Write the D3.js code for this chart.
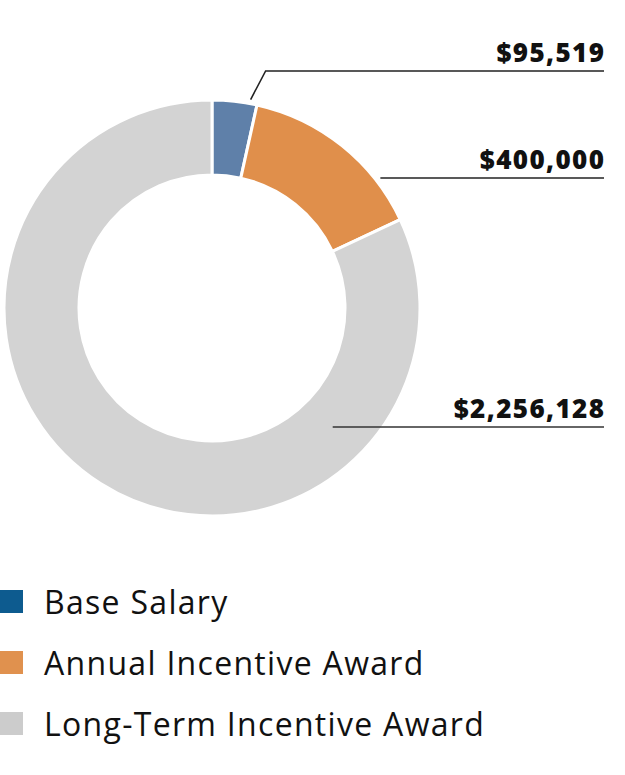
<!DOCTYPE html>
<html><head><meta charset="utf-8">
<script src="https://cdn.jsdelivr.net/npm/d3@7"></script>
<style>body{margin:0;background:#fff}svg{display:block}</style>
</head><body>
<svg id="c" width="625" height="775"></svg>
<script>
const categories = ["Base Salary", "Annual Incentive Award", "Long-Term Incentive Award"];
const values = [95519, 400000, 2256128];
const valueLabels = ["$95,519", "$400,000", "$2,256,128"];
const sliceColors = ["#5f80a9", "#e08f4b", "#d3d3d3"];
const legendColors = ["#0d5b8f", "#e0914e", "#cccccc"];

const svg = d3.select("#c");
const cx = 212, cy = 308, rOuter = 208, rInner = 133;
const g = svg.append("g").attr("transform", `translate(${cx},${cy})`);

const pie = d3.pie().sort(null).value(d => d);
const arcs = pie(values);
const arc = d3.arc().innerRadius(rInner).outerRadius(rOuter);

g.selectAll("path").data(arcs).enter().append("path")
  .attr("d", arc).attr("fill", (d, i) => sliceColors[i])
  .attr("stroke", "#fff").attr("stroke-width", 3).attr("stroke-linejoin", "miter");

const rightX = 604;
const labelLineY = [71, 178, 427];
const fontFam = "'Open Sans', Inter, sans-serif";

const a0 = arcs[0].endAngle * 0.84;
const p0 = [cx + 212 * Math.sin(a0), cy - 212 * Math.cos(a0)];
svg.append("path").attr("d", d3.line()([p0, [p0[0] + 15, labelLineY[0]], [rightX, labelLineY[0]]]))
  .attr("fill", "none").attr("stroke", "#222").attr("stroke-width", 1.6);

const dy1 = labelLineY[1] - cy;
const x1 = cx + Math.sqrt(rOuter * rOuter - dy1 * dy1);
svg.append("line").attr("x1", x1 + 6).attr("x2", rightX).attr("y1", labelLineY[1]).attr("y2", labelLineY[1])
  .attr("stroke", "#222").attr("stroke-width", 1.6);

const rMid = (rInner + rOuter) / 2 - 1;
const dy2 = labelLineY[2] - cy;
const x2 = cx + Math.sqrt(rMid * rMid - dy2 * dy2);
svg.append("line").attr("x1", x2).attr("x2", rightX).attr("y1", labelLineY[2]).attr("y2", labelLineY[2])
  .attr("stroke", "#333").attr("stroke-width", 1.6);

const ls = 1.4;
svg.selectAll("text.val").data(valueLabels).enter().append("text")
  .attr("class", "val").attr("x", rightX + ls).attr("y", (d, i) => labelLineY[i] - 9)
  .attr("text-anchor", "end").attr("font-family", fontFam).attr("font-weight", 800)
  .attr("font-size", 26).attr("letter-spacing", ls).attr("fill", "#111").text(d => d);

const leg = svg.append("g");
const rowY = d3.scalePoint().domain(categories).range([602, 724]);
categories.forEach((c, i) => {
  leg.append("rect").attr("x", 0).attr("y", rowY(c) - 12).attr("width", 23).attr("height", 23)
    .attr("fill", legendColors[i]);
  leg.append("text").attr("x", 44).attr("y", rowY(c) + 11.5).attr("font-family", fontFam)
    .attr("font-size", 32).attr("letter-spacing", 1.3).attr("fill", "#111").text(c);
});
</script>
</body></html>
